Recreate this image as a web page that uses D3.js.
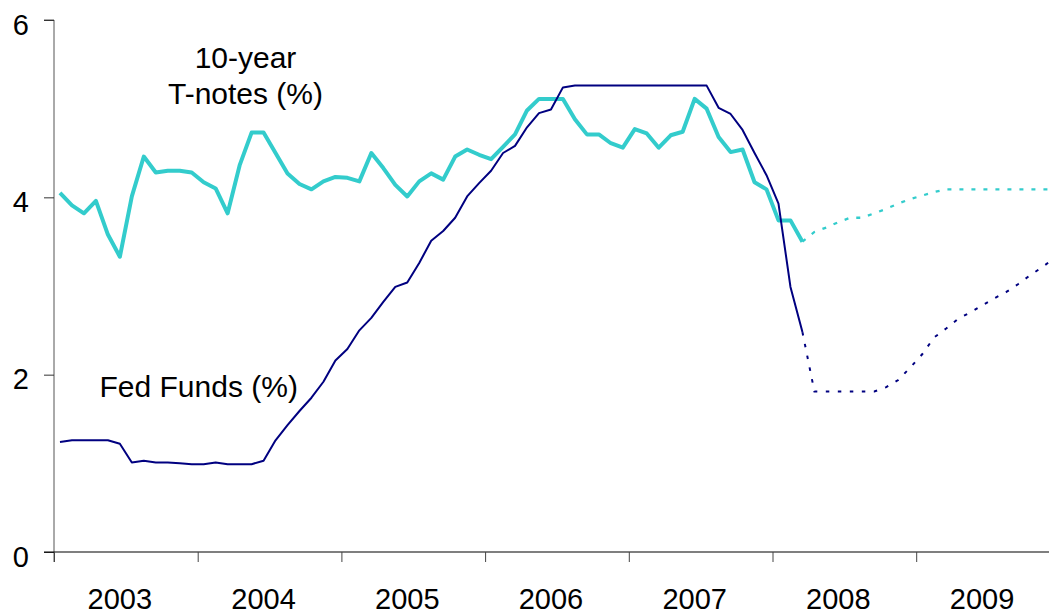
<!DOCTYPE html>
<html>
<head>
<meta charset="utf-8">
<script src="https://cdn.jsdelivr.net/npm/d3@7/dist/d3.min.js"></script>
<style>
  html, body { margin: 0; padding: 0; background: #fff; }
  svg { display: block; }
  text { font-family: "Liberation Sans", Arial, sans-serif; fill: #000; }
</style>
</head>
<body>
<svg id="chart" width="1049" height="615"></svg>
<script>
// ---- Data (monthly, index 0 = Jan 2003) ----
const years = ["2003", "2004", "2005", "2006", "2007", "2008", "2009"];
const yTicks = [0, 2, 4, 6];

// 10-year T-notes, actual, Jan 2003 .. Mar 2008
const tnoteActual = [
  4.05, 3.91, 3.82, 3.96, 3.58, 3.33, 4.01, 4.46, 4.28, 4.30, 4.30, 4.28,
  4.17, 4.10, 3.82, 4.36, 4.73, 4.73, 4.50, 4.27, 4.15, 4.09, 4.18, 4.23,
  4.22, 4.18, 4.50, 4.33, 4.14, 4.01, 4.18, 4.27, 4.20, 4.46, 4.54, 4.48,
  4.43, 4.57, 4.71, 4.98, 5.11, 5.11, 5.11, 4.88, 4.71, 4.71, 4.61, 4.56,
  4.77, 4.72, 4.56, 4.70, 4.74, 5.11, 5.00, 4.68, 4.51, 4.54, 4.17, 4.09,
  3.74, 3.74, 3.50
];
// 10-year T-notes, forecast, Mar 2008 .. Dec 2009
const tnoteForecast = [
  3.50, 3.61, 3.66, 3.72, 3.77, 3.77, 3.82, 3.87, 3.93, 3.98, 4.02, 4.06,
  4.09, 4.09, 4.09, 4.09, 4.09, 4.09, 4.09, 4.09, 4.09, 4.09
];
// Fed Funds, actual, Jan 2003 .. Mar 2008
const fedActual = [
  1.24, 1.26, 1.26, 1.26, 1.26, 1.22, 1.01, 1.03, 1.01, 1.01, 1.00, 0.99,
  0.99, 1.01, 0.99, 0.99, 0.99, 1.03, 1.26, 1.43, 1.59, 1.74, 1.92, 2.16,
  2.29, 2.50, 2.64, 2.82, 2.99, 3.04, 3.26, 3.51, 3.62, 3.77, 4.01, 4.16,
  4.30, 4.50, 4.58, 4.79, 4.95, 4.99, 5.24, 5.26, 5.26, 5.26, 5.26, 5.26,
  5.26, 5.26, 5.26, 5.26, 5.26, 5.26, 5.26, 5.01, 4.94, 4.76, 4.50, 4.25,
  3.93, 2.99, 2.48
];
// Fed Funds, forecast, Mar 2008 .. Dec 2009
const fedForecast = [
  2.48, 1.81, 1.81, 1.81, 1.81, 1.81, 1.81, 1.86, 1.94, 2.08, 2.23, 2.42,
  2.52, 2.63, 2.70, 2.78, 2.86, 2.93, 3.02, 3.12, 3.21, 3.31
];
const forecastStart = tnoteActual.length - 1; // month index where forecast begins

// ---- Layout ----
const svg = d3.select("#chart");
const mLeft = 54, mTop = 20, mBottom = 552;
const monthsTotal = years.length * 12;
const monthW = 11.975;

const x = d3.scaleLinear()
  .domain([-0.5, monthsTotal - 0.5])
  .range([mLeft, mLeft + monthsTotal * monthW]);
const y = d3.scaleLinear().domain([0, 6]).range([mBottom, mTop]);

svg.append("defs").append("clipPath").attr("id", "clip")
  .append("rect").attr("x", 0).attr("y", 0).attr("width", 1049).attr("height", 615);

// ---- Axes ----
const yAxis = d3.axisLeft(y).tickValues(yTicks).tickSize(10).tickPadding(15).tickFormat(d3.format("d"));
const gy = svg.append("g").attr("transform", `translate(${mLeft},0)`).call(yAxis);
gy.attr("font-family", null).attr("font-size", null);
gy.select(".domain").attr("stroke", "#555").attr("stroke-width", 1).attr("d", `M-10,${mTop}H0V${mBottom + 10}`);
gy.selectAll(".tick line").attr("stroke", "#333");
gy.selectAll(".tick text")
  .style("font-size", "29px")
  .attr("dy", "0.49em");

const yearTickVals = d3.range(0, monthsTotal + 1, 12).map(m => m - 0.5);
const xAxis = d3.axisBottom(x).tickValues(yearTickVals).tickSize(10).tickFormat("");
const gx = svg.append("g").attr("transform", `translate(0,${mBottom})`).call(xAxis);
gx.select(".domain").attr("stroke", "#000").attr("stroke-width", 1.2)
  .attr("d", `M${mLeft - 10},0H1049`);
gx.selectAll(".tick line").attr("stroke", "#444");

svg.append("g").selectAll("text").data(years).join("text")
  .attr("x", (d, i) => x(i * 12 + 5))
  .attr("y", 609)
  .attr("text-anchor", "middle")
  .style("font-size", "29px")
  .text(d => d);

// ---- Lines ----
const lineGen = (offset) => d3.line()
  .x((d, i) => x(i + offset))
  .y(d => y(d));

const plot = svg.append("g").attr("clip-path", "url(#clip)");

plot.append("path").datum(tnoteForecast)
  .attr("d", lineGen(forecastStart))
  .attr("fill", "none").attr("stroke", "#33CCCC").attr("stroke-width", 2.3)
  .attr("stroke-dasharray", "4,8");

plot.append("path").datum(fedForecast)
  .attr("d", lineGen(forecastStart))
  .attr("fill", "none").attr("stroke", "#000080").attr("stroke-width", 2)
  .attr("stroke-dasharray", "3.5,8.5");

plot.append("path").datum(tnoteActual)
  .attr("d", lineGen(0))
  .attr("fill", "none").attr("stroke", "#33CCCC").attr("stroke-width", 4)
  .attr("stroke-linejoin", "round");

plot.append("path").datum(fedActual)
  .attr("d", lineGen(0))
  .attr("fill", "none").attr("stroke", "#000080").attr("stroke-width", 2)
  .attr("stroke-linejoin", "round");

// ---- Labels ----
const ann = svg.append("g").style("font-size", "30px");
ann.append("text").attr("x", 245.5).attr("y", 67.5).attr("text-anchor", "middle").text("10-year");
ann.append("text").attr("x", 245.5).attr("y", 103.5).attr("text-anchor", "middle").text("T-notes (%)");
ann.append("text").attr("x", 99.5).attr("y", 396.7).attr("text-anchor", "start").text("Fed Funds (%)");
</script>
</body>
</html>
